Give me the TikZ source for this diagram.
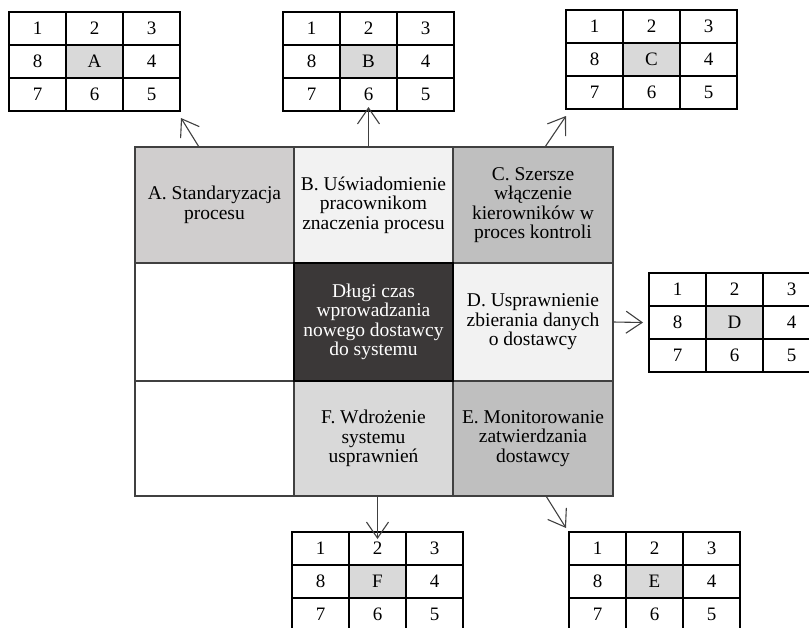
\documentclass[tikz,border=0pt]{standalone}
\usepackage{fontspec}
\setmainfont{Liberation Serif}
\usetikzlibrary{arrows.meta}
\definecolor{cA}{RGB}{208,206,206}
\definecolor{cB}{RGB}{242,242,242}
\definecolor{cC}{RGB}{191,191,191}
\definecolor{cM}{RGB}{59,56,56}
\definecolor{cF}{RGB}{217,217,217}
\definecolor{lineg}{RGB}{64,64,64}
\definecolor{hl}{RGB}{217,217,217}
\newcommand\tabgrid[4]{%
  \foreach \r/\c/\t in {1/1/1,1/2/2,1/3/3,2/1/8,2/3/4,3/1/7,3/2/6,3/3/5}{
    \node[tabcell] (#1-\r-\c) at ({#2+28.5+57*(\c-1)},{#3+16.5+33*(\r-1)}) {\t};
  }
  \node[tabcell, fill=hl] (#1-2-2) at ({#2+28.5+57},{#3+16.5+33}) {#4};
}
\begin{document}
\begin{tikzpicture}[x=1pt,y=-1pt,
  cellbox/.style={draw=lineg, line width=1.4pt, minimum width=159pt, inner sep=0pt, outer sep=0pt, align=center, font=\fontsize{19.5}{19.5}\selectfont},
  tabcell/.style={draw=black, line width=2.2pt, minimum width=57pt, minimum height=33pt, inner sep=0pt, outer sep=0pt, font=\fontsize{19}{19}\selectfont},
  arr/.style={draw=lineg, line width=1.1pt, -{Straight Barb[length=16pt,width=22pt,line width=1.1pt]}}
]
\useasboundingbox (0,0) rectangle (809,627);
\clip (0,0) rectangle (809,627);

% main grid
\node[cellbox, fill=cA, minimum height=116pt] (cA) at (214.5,205) {A. Standaryzacja\\procesu};
\node[cellbox, fill=cB, minimum height=116pt] (cB) at (373.5,205) {B. Uświadomienie\\pracownikom\\znaczenia procesu};
\node[cellbox, fill=cC, minimum height=116pt, minimum width=160pt] (cC) at (533,205) {C. Szersze\\włączenie\\kierowników w\\proces kontroli};
\node[cellbox, fill=white, minimum height=118pt] (cL) at (214.5,322) {};
\node[cellbox, fill=cB, minimum height=118pt, minimum width=160pt] (cD) at (533,322) {D. Usprawnienie\\zbierania danych\\o dostawcy};
\node[cellbox, fill=white, minimum height=115pt] (cL2) at (214.5,438.5) {};
\node[cellbox, fill=cF, minimum height=115pt] (cF) at (373.5,438.5) {F. Wdrożenie\\systemu\\usprawnień};
\node[cellbox, fill=cC, minimum height=115pt, minimum width=160pt] (cE) at (533,438.5) {E. Monitorowanie\\zatwierdzania\\dostawcy};
\node[cellbox, draw=black, fill=cM, text=white, minimum height=118pt] (cM) at (373.5,322) {Długi czas\\wprowadzania\\nowego dostawcy\\do systemu};

% small tables
\tabgrid{tA}{9}{12}{A}
\tabgrid{tB}{283}{12}{B}
\tabgrid{tC}{566}{10}{C}
\tabgrid{tD}{649}{273}{D}
\tabgrid{tF}{292}{532}{F}
\tabgrid{tE}{569}{532}{E}

% arrows
\draw[arr] ([xshift=-15.5pt]cA.north) -- ([shift={(1,7)}]tA-3-3.south east);
\draw[arr] (tB-3-2.south |- cB.north) -- ([yshift=4pt]tB-3-2.south);
\draw[arr] ([xshift=12pt]cC.north) -- ([shift={(0,7)}]tC-3-1.south west);
\draw[arr] (cD.east) -- ([xshift=-6pt]tD-2-1.west);
\draw[arr] (tF-1-2.north |- cF.south) -- ([yshift=-7pt]tF-1-2.north);
\draw[arr] ([xshift=13pt]cE.south) -- ([shift={(-3,-4)}]tE-1-1.north west);
\end{tikzpicture}
\end{document}
